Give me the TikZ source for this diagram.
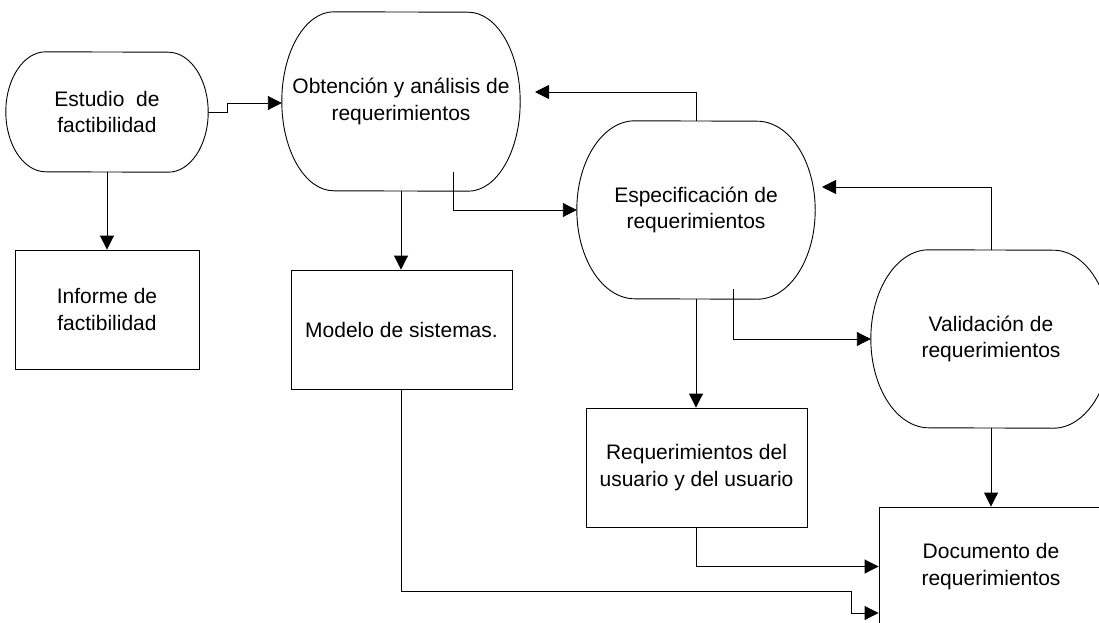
\documentclass[tikz,border=0pt]{standalone}
\usepackage{fontspec}
\setmainfont{Liberation Sans}
\usetikzlibrary{arrows.meta,calc}
\newcommand{\lblfont}{\fontsize{21}{26.5}\selectfont}
\newcommand{\termdraw}[3]{%
  \draw[outline] ([xshift=#2pt]#1.north west)
    arc[start angle=90,end angle=270,x radius=#2pt,y radius=#3pt]
    -- ([xshift=-#2pt]#1.south east)
    arc[start angle=-90,end angle=90,x radius=#2pt,y radius=#3pt] -- cycle;}
\tikzset{
  outline/.style={line width=0.9pt, black},
  term/.style={rectangle, draw=none, inner sep=0pt, align=center, font=\lblfont},
  boxnode/.style={rectangle, draw, line width=0.9pt, inner sep=0pt, align=center, font=\lblfont},
  conn/.style={line width=0.9pt, black, -{Triangle[length=14pt,width=14pt]}},
}
\begin{document}
\begin{tikzpicture}[x=1pt,y=-1pt]
\useasboundingbox (0,0) rectangle (1099,623);
\clip (0,0) rectangle (1099,623);
\fill[white] (0,0) rectangle (1099,623);

% process shapes
\node[term, minimum width=202pt, minimum height=120pt] (estudio) at (107,112) {Estudio\ \ de\\factibilidad};
\node[term, minimum width=238pt, minimum height=179pt] (obtencion) at (401,101.5) {Obtención y análisis de\\requerimientos};
\node[term, minimum width=238pt, minimum height=178pt] (especificacion) at (696,210) {Especificación de\\requerimientos};
\node[term, minimum width=240pt, minimum height=178pt] (validacion) at (991,339) {Validación de\\requerimientos};
\termdraw{estudio}{40}{60}
\termdraw{obtencion}{52}{89.5}
\termdraw{especificacion}{58}{89}
\termdraw{validacion}{58}{89}

% documents
\node[boxnode, minimum width=184pt, minimum height=119pt] (informe) at (107,309.5) {Informe de\\factibilidad};
\node[boxnode, minimum width=221pt, minimum height=119pt] (modelo) at (401.5,329.5) {Modelo de sistemas.};
\node[boxnode, minimum width=221pt, minimum height=119pt] (req) at (696.5,467.5) {Requerimientos del\\usuario y del usuario};
\node[boxnode, minimum width=224pt, minimum height=119pt] (documento) at (991,566.5) {Documento de\\requerimientos};

% helper coordinates
\coordinate (o1) at (453,172);
\coordinate (o2) at (535,92);
\coordinate (e1) at (733,289);
\coordinate (e2) at (822,187);
\coordinate (m1) at (851,591);

% connectors
\draw[conn] (estudio.east) -- (227,112) -- (227,103) -- (obtencion.west |- 0,103);
\draw[conn] (estudio.south) -- (informe.north);
\draw[conn] (obtencion.south) -- (obtencion.south |- modelo.north);
\draw[conn] (o1) |- (especificacion.west);
\draw[conn] (especificacion.north) |- (o2);
\draw[conn] (validacion.north) |- (e2);
\draw[conn] (e1) |- (validacion.west);
\draw[conn] (especificacion.south) -- (especificacion.south |- req.north);
\draw[conn] (validacion.south) -- (documento.north);
\draw[conn] (req.south) |- (documento.west);
\draw[conn] (modelo.south) |- (m1) |- ([yshift=-46.5pt]documento.west);
\end{tikzpicture}
\end{document}
